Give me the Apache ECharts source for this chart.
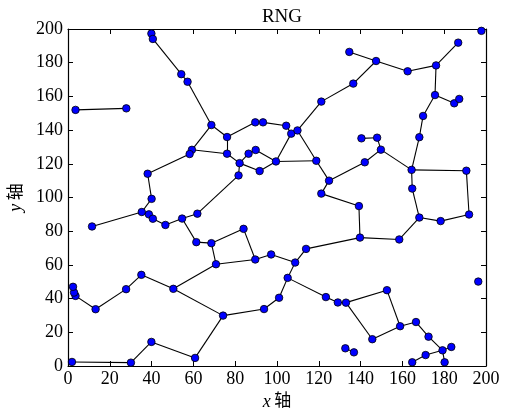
<!DOCTYPE html>
<html>
<head>
<meta charset="utf-8">
<script src="https://cdn.jsdelivr.net/npm/echarts@6/dist/echarts.min.js"></script>
<style>html,body{margin:0;padding:0;background:#fff;}#c{width:505px;height:412px;}</style>
</head>
<body>
<div id="c"></div>
<script>
// Node coordinates
const nodeX = [3.6,27.9,39.9,40.6,54.2,57.2,68.6,76.1,89.6,93.3,
  104.4,106.8,109.8,59.3,58.2,76.1,82.1,86.4,89.8,81.6,
  91.7,99.5,118.8,38.1,40.0,35.3,38.7,40.6,46.6,54.6,
  61.9,11.5,61.4,68.6,84.0,70.8,89.6,97.2,113.9,108.7,
  105.1,101.0,93.8,74.2,50.4,35.1,27.8,13.2,3.6,2.9,
  2.4,1.9,30.1,39.9,60.8,123.4,129.1,133.0,152.6,158.9,
  145.6,166.5,172.5,179.2,183.4,171.1,164.7,180.2,132.7,136.8,
  196.3,197.8,134.6,147.4,162.5,176.1,186.7,136.5,121.2,175.6,
  184.8,187.2,169.9,168.1,164.4,190.6,164.7,140.4,147.9,149.7,
  142.0,124.9,121.2,139.2,139.7,158.5,168.1,178.3,191.9];
const nodeY = [152.0,152.9,197.3,194.1,173.2,168.7,143.0,135.9,144.6,144.6,
  142.6,137.9,139.8,128.3,125.8,126.0,120.4,126.0,128.2,113.1,
  115.7,121.4,121.8,114.1,99.2,91.4,90.0,87.4,83.7,87.5,
  90.4,82.8,73.5,72.9,81.4,60.4,63.2,66.2,69.5,61.4,
  52.3,40.5,33.8,29.9,45.8,54.1,45.6,33.7,41.6,43.6,
  47.0,2.4,2.0,14.3,4.8,40.9,37.7,37.6,45.0,23.6,
  15.9,26.1,17.4,9.3,11.3,6.5,2.2,2.2,10.5,8.1,
  50.1,198.9,186.4,181.0,174.9,178.4,191.9,167.6,156.9,160.8,
  155.9,158.5,148.4,135.8,116.4,115.9,105.3,135.1,135.5,128.4,
  120.9,110.0,102.3,94.9,76.2,75.1,88.1,86.0,89.9];
// Edges (node index pairs)
const edgeFrom = [0,2,3,4,5,6,6,7,7,8,9,10,11,11,12,12,13,13,14,15,
  16,17,18,16,20,16,19,21,22,23,24,25,25,26,27,28,29,29,32,33,
  33,34,35,35,36,37,38,38,39,40,41,42,40,55,56,57,58,57,60,59,
  61,62,63,63,65,63,68,43,44,45,46,47,48,49,43,54,53,52,72,73,
  74,75,73,77,75,79,80,79,82,83,84,85,84,84,89,88,89,90,91,92,
  93,94,95,96,97,86];
const edgeTo = [1,3,4,5,6,7,13,8,15,9,10,11,12,21,78,22,14,15,23,16,
  17,18,21,20,21,19,30,22,91,24,25,31,26,27,28,29,30,32,33,34,
  35,36,36,44,37,39,39,94,40,41,42,43,55,56,57,58,59,60,59,61,
  62,63,64,65,66,67,69,44,45,46,47,48,49,50,54,53,52,51,73,74,
  75,76,77,78,79,80,81,82,83,84,85,98,86,89,88,87,90,91,92,93,
  94,95,96,97,98,96];
const tickInterval = 20;

const points = nodeX.map((x, i) => [x, nodeY[i]]);
const segs = edgeFrom.map((a, i) => ({coords: [points[a], points[edgeTo[i]]]}));

const serif = "'Liberation Serif','Times New Roman',serif";
const cjk = "'Liberation Serif','Noto Sans CJK SC',serif";
const chart = echarts.init(document.getElementById('c'), null, {renderer: 'canvas'});
const baseAxis = {
  min: 0, max: 200, interval: tickInterval,
  axisLine: {show: true, onZero: false, lineStyle: {color: '#000', width: 1.2}},
  axisTick: {show: true, inside: true, length: 5, lineStyle: {color: '#000', width: 1}},
  splitLine: {show: false}
};
chart.setOption({
  animation: false,
  backgroundColor: '#fff',
  title: {
    text: 'RNG', left: 277, top: 3, textAlign: 'center',
    textStyle: {fontFamily: serif, fontSize: 19, fontWeight: 'normal', color: '#000'}
  },
  grid: {left: 68, right: 19, top: 29, bottom: 46, containLabel: false, outerBoundsMode: 'none'},
  xAxis: [
    Object.assign({}, baseAxis, {
      type: 'value', position: 'bottom',
      axisLabel: {color: '#000', fontFamily: serif, fontSize: 18, margin: 4},
      name: '{i|x} {c|轴}', nameLocation: 'middle', nameGap: 27,
      nameTextStyle: {color: '#000', rich: {
        i: {fontFamily: serif, fontStyle: 'italic', fontSize: 18, color: '#000'},
        c: {fontFamily: cjk, fontSize: 17, color: '#000'}
      }}
    }),
    Object.assign({}, baseAxis, {type: 'value', position: 'top', axisLabel: {show: false}})
  ],
  yAxis: [
    Object.assign({}, baseAxis, {
      type: 'value', position: 'left',
      axisLabel: {color: '#000', fontFamily: serif, fontSize: 18, margin: 5},
      name: '{i|y} {c|轴}', nameLocation: 'middle', nameGap: 39, nameRotate: 90,
      nameTextStyle: {color: '#000', rich: {
        i: {fontFamily: serif, fontStyle: 'italic', fontSize: 18, color: '#000'},
        c: {fontFamily: cjk, fontSize: 17, color: '#000'}
      }}
    }),
    Object.assign({}, baseAxis, {type: 'value', position: 'right', axisLabel: {show: false}})
  ],
  series: [
    {
      type: 'lines', coordinateSystem: 'cartesian2d', xAxisIndex: 0, yAxisIndex: 0,
      data: segs, z: 2, silent: true,
      lineStyle: {color: '#000', width: 1.1, opacity: 1}
    },
    {
      type: 'scatter', xAxisIndex: 0, yAxisIndex: 0, data: points, z: 3,
      symbol: 'circle', symbolSize: 7.5,
      itemStyle: {color: '#0000ff', borderColor: '#000', borderWidth: 0.8, opacity: 1}
    }
  ]
});
</script>
</body>
</html>
